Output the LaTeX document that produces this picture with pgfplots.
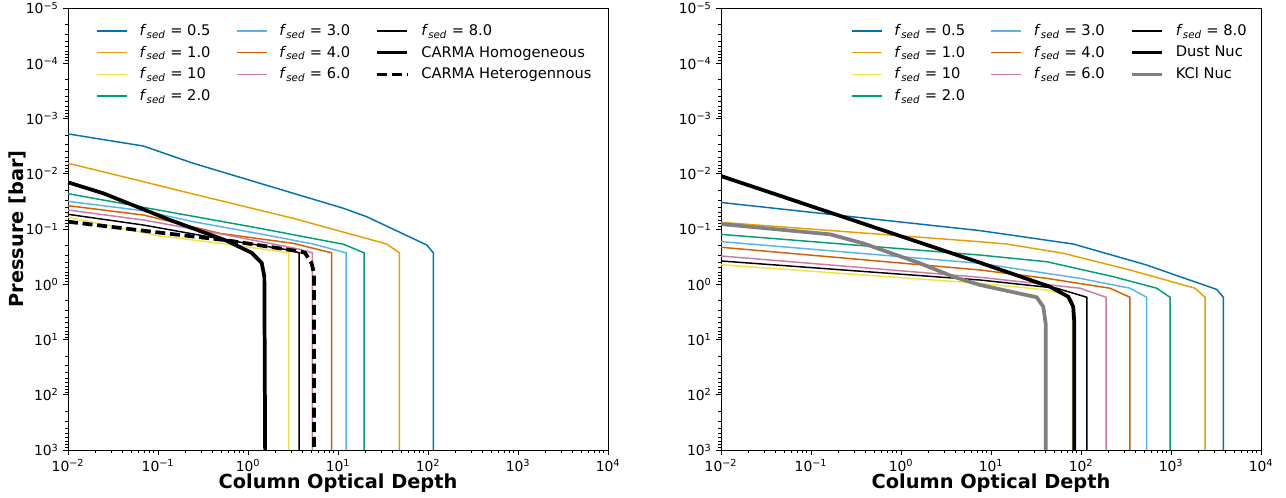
\documentclass[border=0pt]{standalone}
\usepackage{fontspec}
\setmainfont{DejaVu Sans}
\usepackage{pgfplots}
\pgfplotsset{compat=1.18}
\definecolor{cbA}{HTML}{0072B2}
\definecolor{cbB}{HTML}{E69F00}
\definecolor{cbC}{HTML}{F0E442}
\definecolor{cbD}{HTML}{009E73}
\definecolor{cbE}{HTML}{56B4E9}
\definecolor{cbF}{HTML}{D55E00}
\definecolor{cbG}{HTML}{CC79A7}
\definecolor{kclgrey}{HTML}{808080}
\newcommand{\fs}[1]{\textit{f}\textsubscript{\textit{sed}} = #1}
\pgfplotsset{
  legend image code/.code={\draw[#1] (0pt,0pt) -- (22.5pt,0pt);},
  every axis/.append style={
    scale only axis, width=405pt, height=331.5pt,
    xmin=1e-2, xmax=1e4, ymin=1e-5, ymax=1e3,
    y dir=reverse,
    xtick={1e-2,1e-1,1,10,100,1000,10000},
    xticklabels={10\textsuperscript{−2},10\textsuperscript{−1},10\textsuperscript{0},10\textsuperscript{1},10\textsuperscript{2},10\textsuperscript{3},10\textsuperscript{4}},
    ytick={1e-5,1e-4,1e-3,1e-2,1e-1,1,10,100,1000},
    yticklabels={10\textsuperscript{−5},10\textsuperscript{−4},10\textsuperscript{−3},10\textsuperscript{−2},10\textsuperscript{−1},10\textsuperscript{0},10\textsuperscript{1},10\textsuperscript{2},10\textsuperscript{3}},
    minor xtick={0.02,0.03,0.04,0.05,0.06,0.07,0.08,0.09,0.2,0.3,0.4,0.5,0.6,0.7,0.8,0.9,2,3,4,5,6,7,8,9,20,30,40,50,60,70,80,90,200,300,400,500,600,700,800,900,2000,3000,4000,5000,6000,7000,8000,9000},
    minor ytick={2e-5,3e-5,4e-5,5e-5,6e-5,7e-5,8e-5,9e-5,2e-4,3e-4,4e-4,5e-4,6e-4,7e-4,8e-4,9e-4,2e-3,3e-3,4e-3,5e-3,6e-3,7e-3,8e-3,9e-3,0.02,0.03,0.04,0.05,0.06,0.07,0.08,0.09,0.2,0.3,0.4,0.5,0.6,0.7,0.8,0.9,2,3,4,5,6,7,8,9,20,30,40,50,60,70,80,90,200,300,400,500,600,700,800,900},
    tick align=outside, xtick pos=bottom, ytick pos=left,
    major tick length=3.6pt, minor tick length=2.1pt,
    every tick/.style={black, line width=0.6pt},
    axis line style={line width=0.6pt},
    tick label style={font=\fontsize{10.4}{12}\selectfont},
    xlabel={Column Optical Depth},
    xlabel style={font=\fontsize{14.5}{17}\selectfont\bfseries, at={(axis description cs:0.5,0)}, anchor=center, yshift=-25pt},
    ylabel style={font=\fontsize{14.5}{17}\selectfont\bfseries, at={(axis description cs:-0.0938,0.5)}, anchor=center},
    legend columns=3,
    legend cell align=left,
    legend style={draw=none, fill=none, inner sep=0pt,
      font=\fontsize{11}{13}\selectfont,
      nodes={inner sep=2pt},
      row sep=2.5pt,
      /tikz/every odd column/.append style={column sep=7pt},
      /tikz/every even column/.append style={column sep=17pt}},
  }
}
\begin{document}
\begin{tikzpicture}
\path[use as bounding box] (-51pt,-35.25pt) rectangle (913.5pt,337.5pt);
% ---------------- Left panel ----------------
\begin{loglogaxis}[ylabel={Pressure [bar]},
  legend style={at={(axis description cs:0,0.97)}, anchor=north west, xshift=21pt}]
\addplot[cbA, line width=1.1pt, forget plot] coordinates {(0.01,1.9e-3) (0.0687,3.15e-3) (0.247,6.47e-3) (1.36,0.0149) (11.5,0.0422) (20.8,0.0598) (97,0.195) (114.6,0.27) (114.6,1000)};
\addplot[cbB, line width=1.1pt, forget plot] coordinates {(0.01,6.46e-3) (0.0687,0.0139) (0.162,0.0197) (3.18,0.0641) (34.8,0.187) (48,0.27) (48,1000)};
\addplot[cbC, line width=1.1pt, forget plot] coordinates {(0.01,0.0615) (0.105,0.134) (0.579,0.187) (2.85,0.27) (2.85,1000)};
\addplot[cbD, line width=1.1pt, forget plot] coordinates {(0.01,0.0229) (0.0687,0.0405) (1.36,0.0973) (11.5,0.189) (19.5,0.27) (19.5,1000)};
\addplot[cbE, line width=1.1pt, forget plot] coordinates {(0.01,0.0316) (0.0687,0.0467) (0.247,0.0738) (1.58,0.128) (5.3,0.187) (12.3,0.27) (12.3,1000)};
\addplot[cbF, line width=1.1pt, forget plot] coordinates {(0.01,0.0378) (0.0687,0.0558) (0.489,0.120) (3.18,0.182) (8.5,0.27) (8.5,1000)};
\addplot[cbG, line width=1.1pt, forget plot] coordinates {(0.01,0.0453) (0.0687,0.0687) (0.579,0.1285) (3.78,0.233) (5.2,0.27) (5.2,1000)};
\addplot[black, line width=1.1pt, forget plot] coordinates {(0.01,0.0542) (0.0687,0.0847) (0.579,0.158) (3.18,0.247) (3.7,0.27) (3.7,1000)};
\addplot[black, line width=2.8pt, forget plot] coordinates {(0.01,0.0143) (0.0247,0.0226) (0.136,0.0687) (0.579,0.163) (1.1,0.27) (1.42,0.41) (1.52,0.73) (1.55,1000)};
\addplot[black, line width=2.8pt, dash pattern=on 7.5pt off 3.5pt, forget plot] coordinates {(0.01,0.0738) (0.123,0.12) (0.579,0.16) (3.78,0.255) (4.3,0.27) (5.1,0.42) (5.4,0.63) (5.4,1000)};
\addlegendimage{cbA, line width=1.1pt}\addlegendentry{\fs{0.5}}
\addlegendimage{cbE, line width=1.1pt}\addlegendentry{\fs{3.0}}
\addlegendimage{black, line width=1.1pt}\addlegendentry{\fs{8.0}}
\addlegendimage{cbB, line width=1.1pt}\addlegendentry{\fs{1.0}}
\addlegendimage{cbF, line width=1.1pt}\addlegendentry{\fs{4.0}}
\addlegendimage{black, line width=2.8pt}\addlegendentry{CARMA Homogeneous}
\addlegendimage{cbC, line width=1.1pt}\addlegendentry{\fs{10}}
\addlegendimage{cbG, line width=1.1pt}\addlegendentry{\fs{6.0}}
\addlegendimage{black, line width=2.8pt, dash pattern=on 7.5pt off 3.5pt}\addlegendentry{CARMA Heterogennous}
\addlegendimage{cbD, line width=1.1pt}\addlegendentry{\fs{2.0}}
\end{loglogaxis}
% ---------------- Right panel ----------------
\begin{loglogaxis}[at={(489.75pt,0pt)},
  legend style={at={(axis description cs:1,0.97)}, anchor=north east, xshift=-8.5pt}]
\addplot[cbA, line width=1.1pt, forget plot] coordinates {(0.01,0.0331) (7.55,0.107) (82,0.187) (537,0.449) (1259,0.73) (3220,1.24) (3810,1.72) (3810,1000)};
\addplot[cbB, line width=1.1pt, forget plot] coordinates {(0.01,0.0757) (7.55,0.17) (14.9,0.187) (63.7,0.275) (350,0.552) (1850,1.18) (2390,1.72) (2390,1000)};
\addplot[cbC, line width=1.1pt, forget plot] coordinates {(0.01,0.443) (7.55,0.962) (41.6,1.27) (72,1.6) (79,1.95) (80,2.5) (80,1000)};
\addplot[cbD, line width=1.1pt, forget plot] coordinates {(0.01,0.125) (7.55,0.296) (41.6,0.391) (229,0.73) (693,1.18) (975,1.72) (975,1000)};
\addplot[cbE, line width=1.1pt, forget plot] coordinates {(0.01,0.169) (7.55,0.418) (97.5,0.782) (350,1.18) (537,1.72) (537,1000)};
\addplot[cbF, line width=1.1pt, forget plot] coordinates {(0.01,0.214) (7.55,0.552) (41.6,0.782) (210,1.18) (350,1.72) (350,1000)};
\addplot[cbG, line width=1.1pt, forget plot] coordinates {(0.01,0.308) (7.55,0.748) (97.5,1.18) (190,1.72) (190,1000)};
\addplot[black, line width=1.1pt, forget plot] coordinates {(0.01,0.379) (7.55,0.838) (53.7,1.18) (116,1.72) (116,1000)};
\addplot[black, line width=2.8pt, forget plot] coordinates {(0.01,0.011) (7.55,0.407) (45.3,1.11) (72.3,1.68) (82,2.55) (84.3,5) (84.3,1000)};
\addplot[kclgrey, line width=2.8pt, forget plot] coordinates {(0.01,0.0813) (0.163,0.125) (0.381,0.182) (1.63,0.418) (3.81,0.73) (7.55,1.03) (32.2,1.72) (38.1,2.55) (40.6,5.3) (40.6,1000)};
\addlegendimage{cbA, line width=1.1pt}\addlegendentry{\fs{0.5}}
\addlegendimage{cbE, line width=1.1pt}\addlegendentry{\fs{3.0}}
\addlegendimage{black, line width=1.1pt}\addlegendentry{\fs{8.0}}
\addlegendimage{cbB, line width=1.1pt}\addlegendentry{\fs{1.0}}
\addlegendimage{cbF, line width=1.1pt}\addlegendentry{\fs{4.0}}
\addlegendimage{black, line width=2.8pt}\addlegendentry{Dust Nuc}
\addlegendimage{cbC, line width=1.1pt}\addlegendentry{\fs{10}}
\addlegendimage{cbG, line width=1.1pt}\addlegendentry{\fs{6.0}}
\addlegendimage{kclgrey, line width=2.8pt}\addlegendentry{KCl Nuc}
\addlegendimage{cbD, line width=1.1pt}\addlegendentry{\fs{2.0}}
\end{loglogaxis}
\end{tikzpicture}
\end{document}
